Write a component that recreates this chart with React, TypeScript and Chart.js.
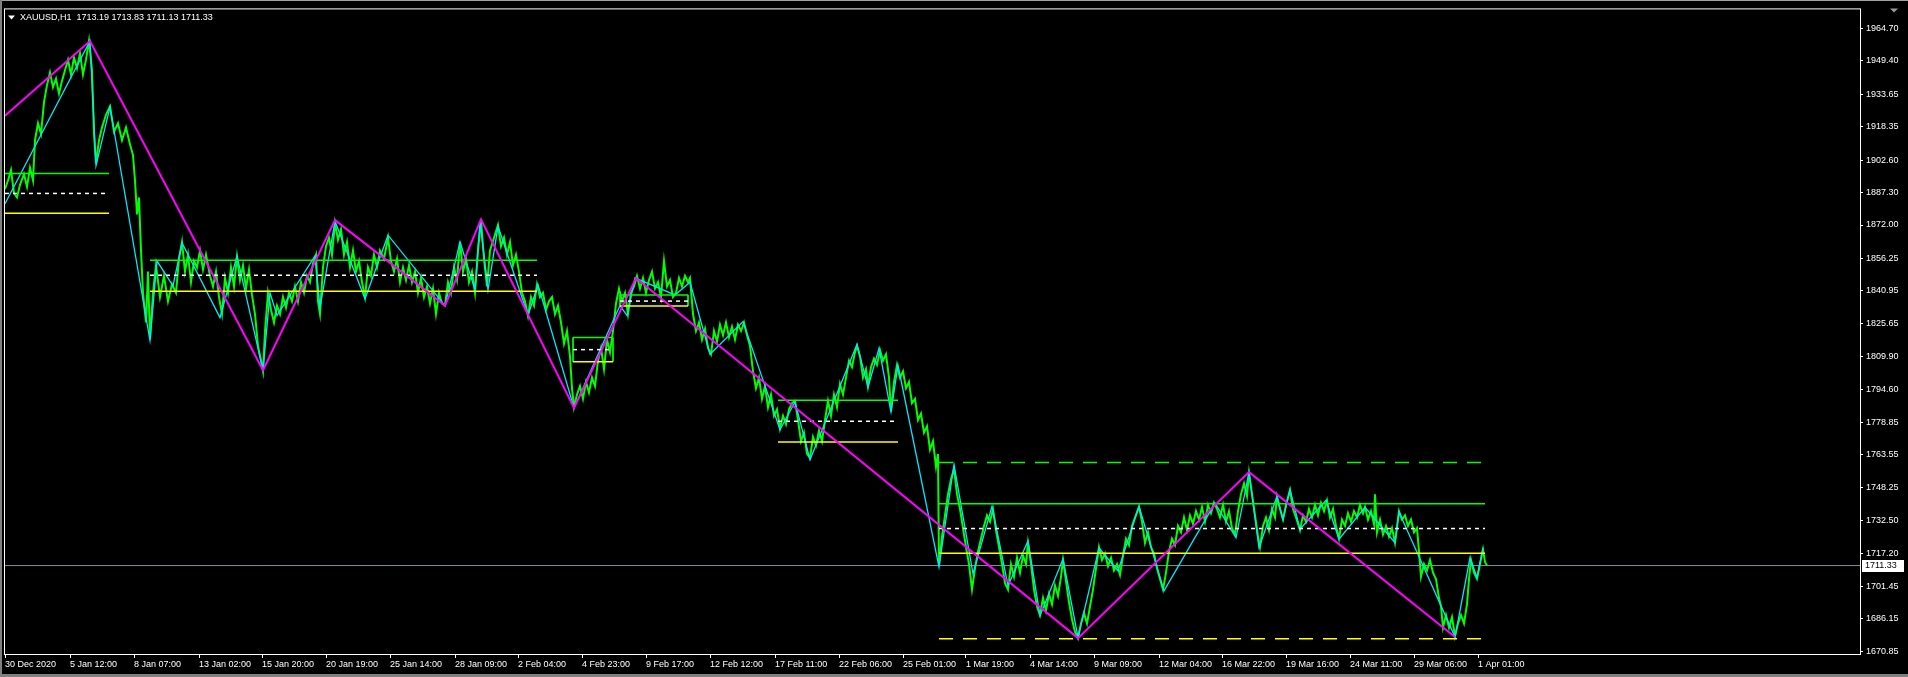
import React, { useEffect, useRef } from "react";
import { Chart, registerables } from "chart.js";

Chart.register(...registerables);

// ---------- data ----------
const TITLE_TEXT = "XAUUSD,H1  1713.19 1713.83 1711.13 1711.33";
const CURRENT_PRICE = 1711.33;

const Y_TICKS = [
  1964.7, 1949.4, 1933.65, 1918.35, 1902.6, 1887.3, 1872.0, 1856.25, 1840.95, 1825.65,
  1809.9, 1794.6, 1778.85, 1763.55, 1748.25, 1732.5, 1717.2, 1701.45, 1686.15, 1670.85,
];

const X_TICK_BARS = [
  0, 65, 129, 194, 257, 321, 385, 450, 513, 577, 641, 705, 770, 834, 898, 961, 1025, 1089,
  1154, 1217, 1281, 1345, 1409, 1473,
];
const X_TICK_LABELS = [
  "30 Dec 2020", "5 Jan 12:00", "8 Jan 07:00", "13 Jan 02:00", "15 Jan 20:00", "20 Jan 19:00",
  "25 Jan 14:00", "28 Jan 09:00", "2 Feb 04:00", "4 Feb 23:00", "9 Feb 17:00", "12 Feb 12:00",
  "17 Feb 11:00", "22 Feb 06:00", "25 Feb 01:00", "1 Mar 19:00", "4 Mar 14:00", "9 Mar 09:00",
  "12 Mar 04:00", "16 Mar 22:00", "19 Mar 16:00", "24 Mar 11:00", "29 Mar 06:00", "1 Apr 01:00",
];

// price path: [bar, price]
const PRICE: [number, number][] = [
  [0,1889],[3,1893],[6,1898],[9,1887],[12,1885],[15,1891],[19,1896],[22,1890],[25,1899],[28,1893],
  [30,1912],[33,1920],[36,1915],[39,1930],[42,1938],[45,1944],[48,1937],[51,1941],[54,1934],[57,1940],
  [60,1945],[63,1950],[66,1943],[69,1951],[72,1946],[75,1953],[78,1943],[81,1950],[84,1959],
  [87,1945],[89,1915],[91,1901],[94,1912],[97,1918],[101,1924],[105,1928],[109,1916],[113,1920],[117,1912],
  [121,1918],[125,1910],[128,1905],
  [130,1893],[132,1877],[134,1885],[136,1860],[138,1840],[141,1826],[143,1850],[145,1818],[148,1840],[151,1853],
  [155,1838],[159,1848],[163,1836],[167,1844],[171,1840],[174,1856],[177,1864],[180,1850],[183,1858],[186,1845],
  [189,1855],[192,1852],[195,1860],[198,1851],[201,1858],[205,1848],[208,1843],[211,1850],[214,1838],[217,1830],
  [220,1847],[223,1840],[226,1852],[229,1843],[232,1857],[235,1846],[238,1853],[241,1842],[244,1851],[247,1839],
  [250,1830],[253,1815],[256,1808],[258,1803],
  [260,1822],[263,1840],[266,1832],[269,1826],[272,1834],[275,1830],[278,1838],[281,1833],[284,1840],[287,1836],
  [290,1843],[293,1836],[296,1845],[299,1840],[302,1848],[305,1845],[308,1854],[311,1858],[313,1836],[315,1830],
  [318,1852],[321,1862],[324,1866],[327,1858],[330,1873],[333,1865],[336,1870],[339,1858],[342,1864],[345,1852],
  [348,1860],[351,1850],[354,1855],[357,1845],[360,1838],[363,1852],[366,1848],[369,1858],[372,1852],[375,1860],
  [379,1856],[383,1866],[386,1855],[389,1850],[392,1856],[395,1845],[398,1852],[401,1846],[404,1853],[407,1845],
  [410,1850],[413,1840],[416,1847],[419,1838],[422,1843],[425,1835],[428,1842],[431,1830],[434,1840],[437,1835],
  [440,1834],[443,1845],[446,1840],[449,1852],[452,1846],[455,1864],[458,1850],[461,1856],[464,1845],[467,1850],
  [470,1840],[473,1860],[476,1874],[479,1856],[482,1843],[485,1860],[489,1866],[493,1872],[496,1862],[499,1866],
  [502,1858],[505,1864],[508,1853],[511,1858],[514,1850],[517,1840],[520,1836],[523,1829],[526,1838],[529,1834],
  [532,1844],[535,1838],[538,1840],[541,1832],[544,1836],[547,1838],[550,1830],[553,1834],[556,1826],[559,1816],
  [562,1822],[565,1810],[567,1795],[569,1786],
  [572,1792],[575,1796],[578,1790],[581,1798],[584,1793],[587,1800],[590,1796],[593,1808],[596,1814],[599,1804],
  [602,1818],[605,1812],[608,1822],[611,1835],[614,1842],[617,1836],[620,1840],[623,1830],[626,1840],[629,1843],
  [632,1848],[635,1842],[638,1847],[641,1840],[644,1846],[647,1850],[650,1842],[653,1845],[656,1838],[659,1855],
  [662,1843],[665,1846],[668,1838],[671,1840],[674,1847],[677,1843],[680,1848],[683,1845],[685,1847],[688,1830],
  [691,1822],[694,1826],[697,1818],[700,1823],[703,1814],[706,1811],[709,1822],[712,1817],[715,1825],[718,1820],
  [721,1826],[724,1819],[727,1824],[730,1818],[733,1825],[736,1822],[739,1826],[742,1820],[745,1815],[748,1803],
  [751,1795],[754,1800],[757,1790],[760,1796],[763,1786],[766,1792],[769,1782],[772,1785],[775,1776],
  [778,1782],[781,1778],[784,1785],[787,1788],[790,1789],[793,1780],[796,1770],[799,1774],[802,1764],[805,1762],
  [808,1772],[811,1768],[814,1775],[817,1770],[820,1780],[823,1789],[826,1782],[829,1792],[832,1786],[835,1797],
  [838,1792],[841,1800],[844,1808],[847,1805],[850,1812],[852,1815],[855,1810],[858,1800],[861,1804],[863,1796],
  [866,1805],[869,1809],[872,1806],[875,1813],[878,1808],[881,1811],[884,1800],[886,1784],[889,1798],[892,1806],
  [895,1800],[898,1803],[901,1795],[904,1798],[907,1788],[910,1790],[913,1780],[916,1783],[919,1774],[922,1777],
  [925,1766],[928,1770],[931,1758],[933,1764],[934,1711],[937,1725],[940,1735],[943,1745],[946,1752],[949,1757],
  [952,1745],[955,1738],[958,1729],[961,1720],[964,1712],[967,1700],[970,1710],[973,1718],[976,1724],[979,1730],
  [982,1735],[985,1732],[988,1738],[991,1728],[994,1720],[997,1712],[1000,1703],[1003,1700],[1006,1712],[1009,1706],
  [1012,1715],[1015,1708],[1018,1716],[1021,1712],[1023,1722],[1026,1712],[1029,1700],[1032,1692],[1035,1688],[1038,1696],
  [1041,1690],[1044,1698],[1047,1693],[1050,1702],[1053,1697],[1056,1706],[1058,1714],[1061,1704],[1064,1694],[1067,1686],
  [1070,1680],[1073,1677],[1076,1684],[1079,1689],[1082,1684],[1085,1692],[1088,1700],[1091,1710],[1094,1720],[1097,1714],
  [1100,1717],[1103,1711],[1106,1715],[1109,1709],[1112,1712],[1115,1707],[1118,1716],[1121,1724],[1124,1721],[1127,1730],
  [1130,1734],[1134,1739],[1137,1732],[1140,1722],[1143,1727],[1146,1720],[1149,1717],[1152,1710],[1155,1705],[1158,1700],
  [1161,1708],[1164,1718],[1167,1724],[1170,1721],[1173,1730],[1176,1727],[1179,1734],[1182,1728],[1185,1735],[1188,1731],
  [1191,1737],[1194,1733],[1197,1739],[1200,1732],[1203,1740],[1206,1736],[1209,1741],[1212,1738],[1215,1734],[1218,1740],
  [1221,1732],[1224,1737],[1227,1729],[1230,1726],[1233,1737],[1236,1745],[1239,1750],[1242,1744],[1244,1755],[1247,1745],
  [1250,1735],[1253,1725],[1255,1720],[1258,1730],[1261,1734],[1264,1728],[1267,1738],[1270,1734],[1272,1744],[1275,1738],
  [1278,1733],[1281,1740],[1285,1747],[1288,1738],[1291,1734],[1295,1728],[1298,1735],[1301,1732],[1304,1738],[1307,1734],
  [1310,1740],[1313,1735],[1316,1741],[1319,1737],[1322,1742],[1325,1734],[1328,1738],[1331,1730],[1334,1724],[1337,1733],
  [1340,1730],[1343,1736],[1346,1732],[1349,1737],[1352,1734],[1355,1740],[1358,1736],[1360,1739],[1363,1733],[1366,1737],
  [1369,1731],[1370,1745],[1372,1727],[1375,1733],[1378,1726],[1381,1730],[1384,1725],[1387,1729],[1390,1722],[1394,1737],
  [1397,1733],[1400,1735],[1403,1730],[1406,1733],[1409,1727],[1412,1729],[1414,1718],[1416,1706],[1419,1712],[1422,1709],
  [1425,1714],[1428,1708],[1431,1705],[1434,1696],[1436,1692],[1438,1682],[1441,1688],[1444,1682],[1447,1687],[1450,1678],
  [1453,1684],[1456,1688],[1459,1684],[1462,1693],[1464,1705],[1466,1714],[1469,1708],[1472,1705],[1475,1712],[1478,1719],
  [1480,1713],[1482,1711.33],
];

// minor zigzag (cyan)
const ZIGZAG_MINOR: [number, number][] = [
  [0,1882],[85,1958.8],[91,1900],[105,1927.7],[145,1817.5],[152,1855],[168,1843.3],[177,1863.5],
  [215,1828.3],[232,1857.4],[258,1803.5],[265,1840],[272,1829.3],[310,1857.4],[315,1833],[330,1873.8],
  [360,1837.2],[383,1867.2],[440,1834],[455,1864],[470,1841.4],[475,1873.8],[483,1841.4],[493,1871.4],
  [523,1829.3],[533,1843.8],[569,1785.7],[615,1834],[622,1829.3],[630,1847],[670,1839],[685,1845],
  [705,1811],[738,1826.4],[775,1775.4],[790,1788.5],[805,1761.3],[852,1815.7],[863,1795.5],[874,1813.8],
  [886,1783.8],[893,1805.8],[934,1710.7],[949,1759],[968,1707.4],[987,1739.3],[1003,1701.8],[1023,1722.9],
  [1035,1687.7],[1058,1714.4],[1073,1677.4],[1094,1719.6],[1113,1708.8],[1134,1739.3],[1159,1699.4],
  [1210,1740.8],[1231,1724.4],[1244,1755.4],[1254,1719.7],[1272,1744],[1278,1733],[1285,1747.2],
  [1295,1728.5],[1321,1742.1],[1334,1723.8],[1360,1738.8],[1390,1722.1],[1394,1736.6],[1450,1677.6],
  [1465,1715],[1472,1705.7],[1478,1719.7],
];

// major zigzag (magenta)
const ZIGZAG_MAJOR: [number, number][] = [
  [0,1923.5],[85,1958.8],[258,1803.5],[330,1874.3],[440,1834],[476,1874.7],[569,1785.7],
  [631,1847],[1073,1677.1],[1244,1755.4],[1450,1677.6],
];

// range boxes
const BOX_START = [0, 145, 568, 615, 773, 934];
const BOX_END = [104, 532, 608, 683, 893, 1480];
const BOX_HIGH = [1896.3, 1855.4, 1818.9, 1839.0, 1789.3, 1740.5];
const BOX_MID = [1886.9, 1848.3, 1813.2, 1836.1, 1779.4, 1728.8];
const BOX_LOW = [1877.5, 1840.8, 1807.5, 1833.8, 1769.6, 1717.1];
const BOXES_WITH_EDGES = [2, 3];
const OUTER_BOX = 5;
const OUTER_TOP = 1759.9;
const OUTER_BOTTOM = 1676.8;

const X_MIN = -1;
const X_MAX = 1855;
const Y_MIN = 1669.6;
const Y_MAX = 1974.2;

// ---------- helpers ----------
const FONT = "'Liberation Sans', Arial, sans-serif";

function seg(x0: number, x1: number, y0: number, y1: number, color: string, dash: number[] = [], width = 1, order = 1) {
  return {
    data: [{ x: x0, y: y0 }, { x: x1, y: y1 }],
    borderColor: color,
    borderWidth: width,
    borderDash: dash,
    pointRadius: 0,
    fill: false,
    tension: 0,
    order,
  };
}

const mtPlugin = {
  id: "mtPlugin",
  beforeDraw(chart: any) {
    const { ctx, width, height } = chart;
    ctx.save();
    ctx.fillStyle = "#000000";
    ctx.fillRect(0, 0, width, height);
    ctx.fillStyle = "#a0a0a0";
    ctx.fillRect(0, 0, width, 1);
    ctx.fillStyle = "#808080";
    ctx.fillRect(0, 0, 2, height);
    ctx.fillRect(0, height - 3, width, 3);
    ctx.restore();
  },
  afterDraw(chart: any) {
    const { ctx, chartArea: a } = chart;
    ctx.save();
    // plot frame
    ctx.strokeStyle = "#ffffff";
    ctx.lineWidth = 1;
    ctx.strokeRect(a.left + 0.5, a.top + 0.5, a.right - a.left, a.bottom - a.top);
    // chart shift marker
    ctx.fillStyle = "#9a9a9a";
    ctx.beginPath();
    ctx.moveTo(a.right + 30, a.top);
    ctx.lineTo(a.right + 38, a.top);
    ctx.lineTo(a.right + 34, a.top + 4);
    ctx.closePath();
    ctx.fill();
    // title
    ctx.fillStyle = "#ffffff";
    ctx.beginPath();
    ctx.moveTo(a.left + 4, a.top + 7);
    ctx.lineTo(a.left + 11, a.top + 7);
    ctx.lineTo(a.left + 7.5, a.top + 11);
    ctx.closePath();
    ctx.fill();
    ctx.font = `9px ${FONT}`;
    ctx.textBaseline = "middle";
    ctx.textAlign = "left";
    ctx.fillText(TITLE_TEXT, a.left + 16, a.top + 9);
    // current price label
    const y = Math.round(chart.scales.y.getPixelForValue(CURRENT_PRICE));
    ctx.fillStyle = "#ffffff";
    ctx.fillRect(a.right + 2, y - 6, 42, 12);
    ctx.fillStyle = "#000000";
    ctx.fillText(CURRENT_PRICE.toFixed(2), a.right + 5, y);
    ctx.restore();
  },
};

export default function App() {
  const ref = useRef<HTMLCanvasElement | null>(null);

  useEffect(() => {
    document.body.style.margin = "0";
    document.body.style.background = "#000";
    const canvas = ref.current;
    if (!canvas) return;

    const datasets: any[] = [];

    // current price line
    datasets.push(seg(X_MIN, X_MAX, CURRENT_PRICE, CURRENT_PRICE, "#8090a0", [], 1, 5));

    // price
    datasets.push({
      data: PRICE.map(([x, y]) => ({ x, y })),
      borderColor: "#00ff00",
      borderWidth: 2,
      pointRadius: 0,
      fill: false,
      tension: 0,
      order: 4,
    });

    // boxes
    BOX_START.forEach((s, i) => {
      const e = BOX_END[i];
      datasets.push(seg(s, e, BOX_HIGH[i], BOX_HIGH[i], "#00ff00", [], 1.5, 2));
      datasets.push(seg(s, e, BOX_MID[i], BOX_MID[i], "#ffffff", [4, 4], 1.5, 2));
      datasets.push(seg(s, e, BOX_LOW[i], BOX_LOW[i], "#ffff00", [], 1.5, 2));
      if (BOXES_WITH_EDGES.includes(i)) {
        datasets.push(seg(s, s, BOX_HIGH[i], BOX_LOW[i], "#00ff00", [], 1, 2));
        datasets.push(seg(e, e, BOX_HIGH[i], BOX_LOW[i], "#00ff00", [], 1, 2));
      }
    });
    datasets.push(seg(BOX_START[OUTER_BOX], BOX_END[OUTER_BOX], OUTER_TOP, OUTER_TOP, "#00ff00", [14, 10], 1.5, 2));
    datasets.push(seg(BOX_START[OUTER_BOX], BOX_END[OUTER_BOX], OUTER_BOTTOM, OUTER_BOTTOM, "#ffff00", [14, 10], 1.5, 2));

    // zigzags
    datasets.push({
      data: ZIGZAG_MINOR.map(([x, y]) => ({ x, y })),
      borderColor: "#00e8ff",
      borderWidth: 1.3,
      pointRadius: 0,
      fill: false,
      tension: 0,
      order: 3,
    });
    datasets.push({
      data: ZIGZAG_MAJOR.map(([x, y]) => ({ x, y })),
      borderColor: "#ff00ff",
      borderWidth: 2,
      pointRadius: 0,
      fill: false,
      tension: 0,
      order: 0,
    });

    const chart = new Chart(canvas, {
      type: "line",
      data: { datasets },
      plugins: [mtPlugin],
      options: {
        animation: false,
        responsive: false,
        devicePixelRatio: 1,
        events: [],
        layout: { padding: { left: 4, top: 4, right: 0, bottom: 0 } },
        plugins: { legend: { display: false }, tooltip: { enabled: false }, title: { display: false } },
        elements: { line: { borderJoinStyle: "miter" } },
        scales: {
          x: {
            type: "linear",
            min: X_MIN,
            max: X_MAX,
            position: "bottom",
            border: { display: false },
            grid: { display: true, drawOnChartArea: false, drawTicks: true, tickLength: 4, color: "#ffffff" },
            afterBuildTicks: (scale: any) => {
              scale.ticks = X_TICK_BARS.map((v) => ({ value: v }));
            },
            afterFit: (scale: any) => {
              scale.height = 23;
            },
            ticks: {
              autoSkip: false,
              maxRotation: 0,
              minRotation: 0,
              align: "start",
              padding: 1,
              color: "#ffffff",
              font: { family: FONT, size: 9 },
              callback: (_v: any, i: number) => X_TICK_LABELS[i],
            },
          },
          y: {
            type: "linear",
            min: Y_MIN,
            max: Y_MAX,
            position: "right",
            border: { display: false },
            grid: { display: true, drawOnChartArea: false, drawTicks: true, tickLength: 3, color: "#ffffff" },
            afterBuildTicks: (scale: any) => {
              scale.ticks = Y_TICKS.map((v) => ({ value: v }));
            },
            afterFit: (scale: any) => {
              scale.width = 48;
            },
            ticks: {
              autoSkip: false,
              crossAlign: "near",
              padding: 3,
              color: "#ffffff",
              font: { family: FONT, size: 9 },
              callback: (v: any) => Number(v).toFixed(2),
            },
          },
        },
      },
    } as any);

    return () => chart.destroy();
  }, []);

  return (
    <div style={{ width: 1908, height: 677, background: "#000" }}>
      <canvas ref={ref} width={1908} height={677} style={{ display: "block", width: 1908, height: 677 }} />
    </div>
  );
}
